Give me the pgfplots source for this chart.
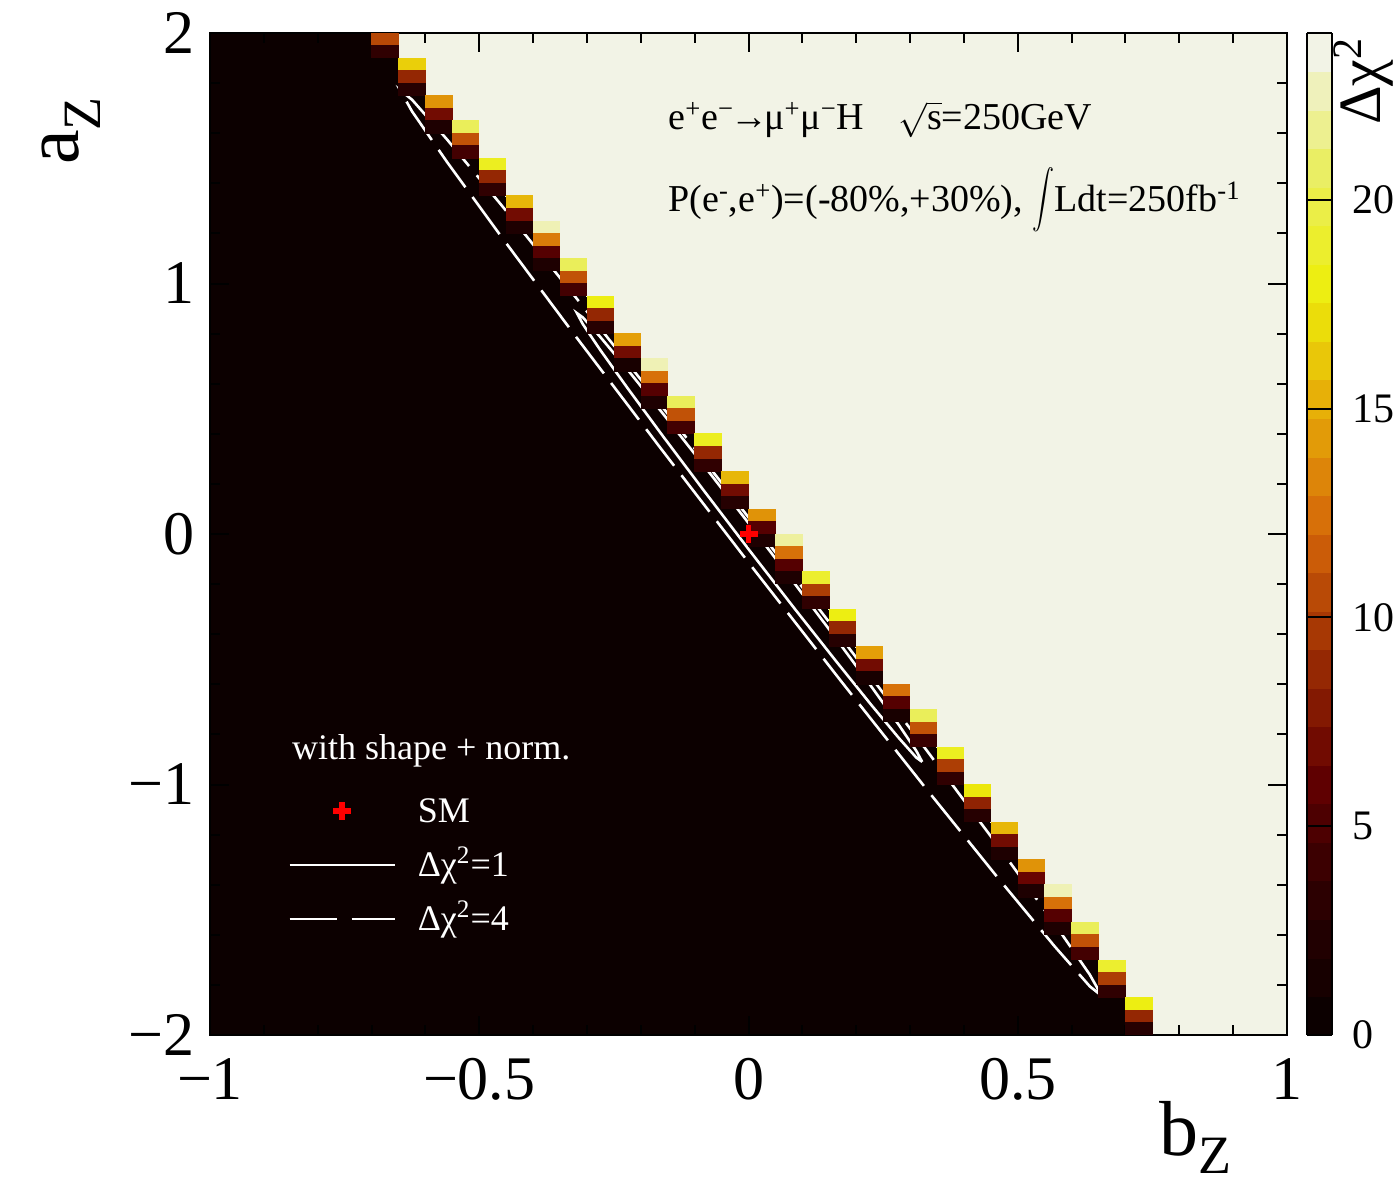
\documentclass[border=0pt]{standalone}
\usepackage{fontspec}
\setmainfont{Liberation Serif}
\usepackage{graphicx}
\usepackage{pgfplots}
\usepackage{pgfplotstable}
\pgfplotsset{compat=1.18}

\definecolor{lightcell}{RGB}{242,243,230}
\definecolor{darkcell}{RGB}{12,0,0}
\definecolor{smred}{RGB}{255,0,0}

\pgfdeclareplotmark{cell}{%
  \pgfpathrectangle{\pgfpoint{-6.85pt}{-3.3pt}}{\pgfpoint{13.7pt}{6.6pt}}%
  \pgfusepathqfill}

\pgfplotsset{
  smlegend/.style={legend image code/.code={%
    \path[draw=none,fill=none] (0pt,-1pt) rectangle (52.5pt,1pt);
    \draw[##1] plot coordinates {(26.25pt,0pt)};}},
}

% Delta chi^2 of the bins along the boundary (b, a = bin centres)
\pgfplotstableread{
b a v
-0.675 1.975 10.5
-0.675 1.925 3.5
-0.625 1.875 16.5
-0.625 1.825 8.7
-0.625 1.775 2.7
-0.575 1.725 14
-0.575 1.675 7
-0.575 1.625 2
-0.525 1.625 20.5
-0.525 1.575 11
-0.525 1.525 4.5
-0.475 1.475 18.5
-0.475 1.425 8.7
-0.475 1.375 3.5
-0.425 1.325 15.5
-0.425 1.275 7
-0.425 1.225 2
-0.375 1.225 22.5
-0.375 1.175 13
-0.375 1.125 5.5
-0.375 1.075 2
-0.325 1.075 20.5
-0.325 1.025 11
-0.325 0.975 4.5
-0.275 0.925 18
-0.275 0.875 8.7
-0.275 0.825 2.7
-0.225 0.775 14.5
-0.225 0.725 7
-0.225 0.675 1.5
-0.175 0.675 22.5
-0.175 0.625 12.5
-0.175 0.575 5.5
-0.175 0.525 2
-0.125 0.525 20.5
-0.125 0.475 11
-0.125 0.425 4.5
-0.075 0.375 18.5
-0.075 0.325 8.7
-0.075 0.275 3.5
-0.025 0.225 15.5
-0.025 0.175 7
-0.025 0.125 2.7
0.025 0.075 14
0.025 0.025 5.5
0.025 -0.025 2
0.075 -0.025 22
0.075 -0.075 12.5
0.075 -0.125 5.5
0.075 -0.175 2
0.125 -0.175 19
0.125 -0.225 10
0.125 -0.275 3.5
0.175 -0.325 18
0.175 -0.375 8.7
0.175 -0.425 2.7
0.225 -0.475 14.5
0.225 -0.525 7
0.225 -0.575 1.5
0.275 -0.625 12.5
0.275 -0.675 5.5
0.275 -0.725 1.5
0.325 -0.725 20.5
0.325 -0.775 11
0.325 -0.825 4
0.375 -0.875 18.5
0.375 -0.925 10
0.375 -0.975 3.5
0.425 -1.025 17.5
0.425 -1.075 8.5
0.425 -1.125 2.7
0.475 -1.175 15.5
0.475 -1.225 7
0.475 -1.275 2
0.525 -1.325 14
0.525 -1.375 6.5
0.525 -1.425 2
0.575 -1.425 22.5
0.575 -1.475 12.5
0.575 -1.525 5.5
0.575 -1.575 2
0.625 -1.575 20.5
0.625 -1.625 11
0.625 -1.675 4.5
0.675 -1.725 19
0.675 -1.775 10
0.675 -1.825 3.5
0.725 -1.875 18
0.725 -1.925 8.7
0.725 -1.975 2.7
}\cells

\begin{document}
\begin{tikzpicture}
\begin{axis}[
  name=ax,
  scale only axis,
  width=538.5pt, height=501pt,
  xmin=-1, xmax=1, ymin=-2, ymax=2,
  axis background/.style={fill=darkcell},
  axis on top,
  axis line style={line width=1.2pt},
  xtick={-1,-0.5,0,0.5,1},
  xticklabels={−1,−0.5,0,0.5,1},
  ytick={-2,-1,0,1,2},
  yticklabels={−2,−1,0,1,2},
  minor tick num=4,
  tick align=inside,
  tick pos=both,
  major tick length=9.5pt,
  minor tick length=5pt,
  tick style={black, line width=1pt},
  tick label style={font=\fontsize{31}{31}\selectfont, inner sep=0pt},
  xticklabel shift=11.5pt,
  yticklabel shift=7.5pt,
  colormap={darkbody}{rgb255(0cm)=(12,0,0); rgb255(0.5cm)=(12,0,0); rgb255(3.625cm)=(45,0,1); rgb255(6.75cm)=(99,0,1); rgb255(9.875cm)=(156,45,3); rgb255(13cm)=(212,101,9); rgb255(16.125cm)=(230,168,8); rgb255(19.25cm)=(237,238,11); rgb255(22.375cm)=(234,238,95); rgb255(25.5cm)=(242,243,230); rgb255(26cm)=(242,243,230)},
  point meta min=0, point meta max=24,
  colorbar sampled,
  colorbar style={
    samples=27,
    scale only axis,
    width=12.5pt,
    at={(parent axis.north east)}, anchor=north west, xshift=1.5pt,
    xtick=\empty,
    ytick={0,5,10,15,20},
    yticklabels={0,5,10,15,20},
    ytick pos=right, yticklabel pos=right,
    tick align=inside,
    major tick length=12.5pt,
    minor tick num=0,
    tick style={black, line width=1pt},
    axis line style={line width=1.2pt},
    yticklabel shift=10pt,
    yticklabel style={font=\fontsize{21}{21}\selectfont},
  },
  legend image code/.code={\draw[#1] (0pt,0pt) -- (52.5pt,0pt);},
  legend style={draw=none, fill=none, inner sep=0pt, at={(0.0724,0.2428)}, anchor=north west,
     row sep=8pt, column sep=10.9pt, font=\fontsize{18}{18}\selectfont, text=white,
     nodes={inner sep=0pt, text height=15pt, text depth=4pt}},
  legend cell align=left,
]
% saturated region (Delta chi^2 above the top of the scale)
\addplot[forget plot, fill=lightcell, draw=lightcell, line width=0.8pt] coordinates {
(-0.65,2) (-0.65,1.90) (-0.60,1.90) (-0.60,1.75) (-0.55,1.75) (-0.55,1.65) (-0.50,1.65) (-0.50,1.50)
(-0.45,1.50) (-0.45,1.35) (-0.40,1.35) (-0.40,1.25) (-0.35,1.25) (-0.35,1.10) (-0.30,1.10) (-0.30,0.95)
(-0.25,0.95) (-0.25,0.80) (-0.20,0.80) (-0.20,0.70) (-0.15,0.70) (-0.15,0.55) (-0.10,0.55) (-0.10,0.40)
(-0.05,0.40) (-0.05,0.25) (0,0.25) (0,0.10) (0.05,0.10) (0.05,0) (0.10,0) (0.10,-0.15)
(0.15,-0.15) (0.15,-0.30) (0.20,-0.30) (0.20,-0.45) (0.25,-0.45) (0.25,-0.60) (0.30,-0.60) (0.30,-0.70)
(0.35,-0.70) (0.35,-0.85) (0.40,-0.85) (0.40,-1.00) (0.45,-1.00) (0.45,-1.15) (0.50,-1.15) (0.50,-1.30)
(0.55,-1.30) (0.55,-1.40) (0.60,-1.40) (0.60,-1.55) (0.65,-1.55) (0.65,-1.70) (0.70,-1.70) (0.70,-1.85)
(0.75,-1.85) (0.75,-2) (1,-2) (1,2) (-0.65,2)};
% coloured bins
\addplot[forget plot, scatter, only marks, mark=cell, point meta=explicit,
  scatter/use mapped color={fill=mapped color}] table[x=b, y=a, meta=v] {\cells};
% Delta chi^2 = 1 contour
\addplot[forget plot, white, line width=1.3pt] coordinates {
(0.3225,-0.9095) (0.3116,-0.8655) (0.2796,-0.7635) (0.2286,-0.6104) (0.1623,-0.4168) (0.0849,-0.1956)
(0.002,0.038) (-0.0809,0.2680) (-0.1583,0.4788) (-0.2246,0.6560) (-0.2756,0.7875) (-0.3076,0.8645)
(-0.3185,0.8815) (-0.3076,0.8375) (-0.2756,0.7355) (-0.2246,0.5824) (-0.1583,0.3888) (-0.0809,0.1676)
(0.002,-0.066) (0.0849,-0.2960) (0.1623,-0.5068) (0.2286,-0.6840) (0.2796,-0.8155) (0.3116,-0.8925)
(0.3225,-0.9095)};
% Delta chi^2 = 4 contour
\addplot[forget plot, white, line width=1.3pt, dash pattern=on 23pt off 6pt] coordinates {
(0.656,-1.844) (0.6338,-1.7591) (0.5687,-1.5567) (0.4652,-1.2508) (0.3303,-0.8621) (0.1731,-0.4170)
(0.0045,0.054) (-0.1641,0.5188) (-0.3213,0.9459) (-0.4562,1.3060) (-0.5597,1.5747) (-0.6248,1.7337)
(-0.647,1.772) (-0.6248,1.6871) (-0.5597,1.4847) (-0.4562,1.1788) (-0.3213,0.7901) (-0.1641,0.3450)
(0.0045,-0.126) (0.1731,-0.5908) (0.3303,-1.0179) (0.4652,-1.3780) (0.5687,-1.6467) (0.6338,-1.8057)
(0.656,-1.844)};
% SM point
\addplot[forget plot, smred, only marks, mark=+, mark size=4.5pt, line width=2.8pt] coordinates {(0,0)};

\addlegendimage{smred, only marks, mark=+, mark size=4.5pt, line width=2.8pt, smlegend}
\addlegendentry{SM}
\addlegendimage{white, line width=1.3pt}
\addlegendentry{Δχ\textsuperscript{2}=1}
\addlegendimage{white, line width=1.3pt, dash pattern=on 23.5pt off 7.5pt}
\addlegendentry{Δχ\textsuperscript{2}=4}

\node[anchor=base west, font=\fontsize{18}{18}\selectfont, text=white, inner sep=0pt]
  at (rel axis cs:0.0759,0.2754) {with shape + norm.};
\node[anchor=base west, font=\fontsize{19}{19}\selectfont, inner sep=0pt]
  at (rel axis cs:0.4253,0.9032) {e\textsuperscript{+}e\textsuperscript{−}\kern-2pt→\kern-2ptμ\textsuperscript{+}μ\textsuperscript{−}H\hspace{17pt}$\sqrt{\mbox{s}}$=250GeV};
\node[anchor=base west, font=\fontsize{19}{19}\selectfont, inner sep=0pt]
  at (rel axis cs:0.4253,0.8214) {P(e\textsuperscript{-},e\textsuperscript{+})=(-80\%,+30\%), \scalebox{1.1}[1.45]{$\displaystyle\int$}Ldt=250fb\textsuperscript{-1}};
\end{axis}
\begin{scope}[shift={(ax.south west)}]
  \node[anchor=base east, font=\fontsize{39}{39}\selectfont, inner sep=0pt]
    at (511pt,-60pt) {b\raisebox{-9pt}{\fontsize{27}{27}\selectfont Z}};
  \node[rotate=90, anchor=base east, font=\fontsize{39}{39}\selectfont, inner sep=0pt]
    at (-65.5pt,469pt) {a\raisebox{-11pt}{\fontsize{27}{27}\selectfont Z}};
  \node[rotate=90, anchor=base east, font=\fontsize{30}{30}\selectfont, inner sep=0pt]
    at (585pt,499pt) {Δχ\textsuperscript{2}};
  \pgfresetboundingbox
  \path[use as bounding box] (-105pt,-74.5pt) rectangle (592.5pt,517.5pt);
\end{scope}
\end{tikzpicture}
\end{document}
